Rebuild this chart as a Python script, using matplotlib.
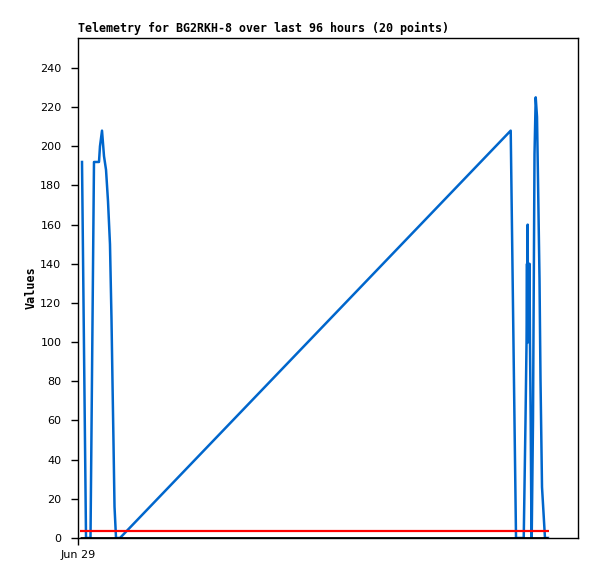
import matplotlib
matplotlib.use("Agg")
import matplotlib.pyplot as plt

# hours since Jun 29 00:00 and the telemetry values
hours = [0.77, 1.54, 2.40, 3.07, 4.03, 4.22, 4.61, 4.99, 5.38, 5.76, 6.14,
         6.43, 6.62, 6.82, 7.01, 7.30, 8.06, 83.08, 84.10, 85.58, 85.92,
         86.12, 86.21, 86.27, 86.34, 86.40, 86.50, 86.59, 86.69, 86.78,
         86.92, 87.07, 87.11, 87.36, 87.65, 87.88, 88.13, 88.32, 88.61,
         88.80, 89.09, 89.66, 90.24]
values = [192, 0, 0, 192, 192, 200, 208, 195, 188, 172, 150,
          112, 80, 48, 16, 0, 0, 208, 0, 0, 60,
          100, 140, 100, 160, 100, 140, 100, 140, 100,
          60, 0, 0, 60, 196, 225, 215, 183, 132,
          81, 26, 0, 0]

# flat reference lines (zero series and threshold)
zero_span = [0.38, 90.24]
zero_vals = [0, 0]
limit_span = [0.38, 90.43]
limit_vals = [3.7, 3.7]

y_ticks = list(range(0, 241, 20))
x_tick_pos = [0]
x_tick_labels = ["Jun 29"]

fig = plt.figure(figsize=(5.97, 5.79), dpi=100)
ax = fig.add_axes([78 / 597, 41 / 579, 500 / 597, 500 / 579])

ax.plot(hours, values, color="#0066cc", lw=1.8)
ax.plot(limit_span, limit_vals, color="red", lw=1.6, solid_capstyle="butt")
ax.plot(zero_span, zero_vals, color="black", lw=2, solid_capstyle="butt")

ax.set_xlim(0, 96)
ax.set_ylim(0, 255.3)
ax.set_yticks(y_ticks)
ax.set_xticks(x_tick_pos)
ax.set_xticklabels(x_tick_labels)
ax.tick_params(direction="out", length=5, width=1, labelsize=8, color="black")
ax.tick_params(axis="y", pad=7)

for s in ax.spines.values():
    s.set_linewidth(1)
    s.set_color("black")

ax.set_ylabel("Values", family="DejaVu Sans Mono", fontweight="bold",
              fontsize=8.5, labelpad=2)
ax.set_title("Telemetry for BG2RKH-8 over last 96 hours (20 points)",
             loc="left", family="DejaVu Sans Mono", fontweight="bold",
             fontsize=8.4, pad=4)

fig.savefig("out.png", dpi=100)
